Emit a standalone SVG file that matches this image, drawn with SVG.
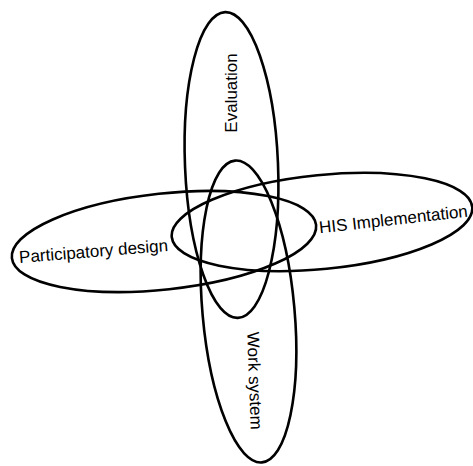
<svg xmlns="http://www.w3.org/2000/svg" width="473" height="466" viewBox="0 0 473 466">
<style>
.e{fill:none;stroke:#000;stroke-width:2.6}
.t{font-family:"Liberation Sans",Arial,sans-serif;font-size:17px;fill:#000;text-anchor:middle}
</style>
<rect width="473" height="466" fill="#fff"/>
<g id="evaluation">
<ellipse class="e" cx="231.5" cy="165" rx="46.5" ry="153" transform="rotate(-2.4 231.5 165)"/>
<text class="t" transform="translate(237,93) rotate(-90)">Evaluation</text>
</g>
<g id="work-system">
<ellipse class="e" cx="248.5" cy="311.5" rx="46" ry="151.5" transform="rotate(-5.1 248.5 311.5)"/>
<text class="t" transform="translate(249,381) rotate(88)">Work system</text>
</g>
<g id="participatory-design">
<ellipse class="e" cx="164" cy="241.5" rx="153" ry="48" transform="rotate(-6.2 164 241.5)"/>
<text class="t" transform="translate(94,257) rotate(-4.6)">Participatory design</text>
</g>
<g id="his-implementation">
<ellipse class="e" cx="322" cy="222" rx="151" ry="47" transform="rotate(-5.7 322 222)"/>
<text class="t" transform="translate(394,225) rotate(-6.4)">HIS Implementation</text>
</g>
<g id="connectors"></g>
</svg>
